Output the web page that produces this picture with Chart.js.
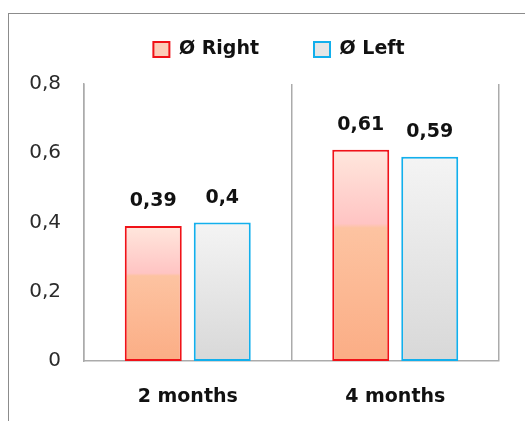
<!DOCTYPE html>
<html>
<head>
<meta charset="utf-8">
<script src="https://cdn.jsdelivr.net/npm/chart.js@4/dist/chart.umd.min.js"></script>
<style>
  html, body { margin: 0; padding: 0; background: #ffffff; overflow: hidden; width: 525px; height: 421px; }
  #frame { position: absolute; left: 8px; top: 13px; border-top: 1px solid #8c8c8c; border-left: 1px solid #8c8c8c; }
  #frame canvas { display: block; }
</style>
</head>
<body>
<div id="frame"><canvas id="chart" width="540" height="420"></canvas></div>
<script>
// Measurement periods and mean values per side
const categories = ['2 months', '4 months'];
const rightValues = [0.39, 0.61];
const leftValues = [0.40, 0.59];
const seriesNames = ['Ø Right', 'Ø Left'];
const yTicks = [0, 0.2, 0.4, 0.6, 0.8];

const FONT = '"DejaVu Sans", sans-serif';
const fmt = v => String(Number(v.toFixed(2))).replace('.', ',');

// Vertical gradient fills for the bars
const rightStops = [[0, '#FFE7DD'], [0.35, '#FFC4C3'], [0.37, '#FDC3A1'], [1, '#FBAD85']];
const leftStops = [[0, '#F4F4F4'], [1, '#D8D8D8']];

function barFill(stops, solid) {
  return (ctx) => {
    if (ctx.type !== 'data') return solid;
    const chart = ctx.chart;
    const y = chart.scales.y;
    if (!chart.chartArea || !y) return solid;
    const top = y.getPixelForValue(ctx.parsed.y);
    const base = y.getPixelForValue(0);
    if (!isFinite(top) || !isFinite(base) || top === base) return solid;
    const g = chart.ctx.createLinearGradient(0, top, 0, base);
    stops.forEach(([o, c]) => g.addColorStop(o, c));
    return g;
  };
}

// Value labels above each bar
const valueLabels = {
  id: 'valueLabels',
  afterDatasetsDraw(chart) {
    const ctx = chart.ctx;
    ctx.save();
    ctx.font = 'bold 19px ' + FONT;
    ctx.fillStyle = '#111111';
    ctx.textAlign = 'center';
    ctx.textBaseline = 'alphabetic';
    chart.data.datasets.forEach((ds, di) => {
      chart.getDatasetMeta(di).data.forEach((bar, i) => {
        ctx.fillText(fmt(ds.data[i]), bar.x, bar.y - 20);
      });
    });
    ctx.restore();
  }
};

// Legend spacing: extra room below the row, and centred across the full canvas width
const legendGap = {
  id: 'legendGap',
  afterInit(chart) {
    const lg = chart.legend;
    if (!lg || lg._gapPatched) return;
    const fit = lg.fit;
    lg.fit = function () { fit.call(this); this.height += 15; };
    lg._gapPatched = true;
  },
  afterLayout(chart) {
    const lg = chart.legend;
    if (!lg) return;
    lg.right = chart.width;
    lg.width = lg.right - lg.left;
  }
};

const gridColor = '#ABABAB';

new Chart(document.getElementById('chart'), {
  type: 'bar',
  data: {
    labels: categories,
    datasets: [
      {
        label: seriesNames[0],
        data: rightValues,
        backgroundColor: barFill(rightStops, '#FCCDB8'),
        borderColor: '#F01218',
        borderWidth: 2,
        borderSkipped: false,
        categoryPercentage: 0.665,
        barPercentage: 0.826
      },
      {
        label: seriesNames[1],
        data: leftValues,
        backgroundColor: barFill(leftStops, '#E6E6E6'),
        borderColor: '#12AFEC',
        borderWidth: 2,
        borderSkipped: false,
        categoryPercentage: 0.665,
        barPercentage: 0.826
      }
    ]
  },
  options: {
    responsive: false,
    animation: false,
    events: [],
    layout: { padding: { top: -29, right: 50, bottom: 0, left: 0 } },
    plugins: {
      tooltip: { enabled: false },
      legend: {
        position: 'top',
        align: 'center',
        labels: {
          boxWidth: 16,
          boxHeight: 15,
          padding: 55,
          color: '#111111',
          font: { family: FONT, size: 19, weight: 'bold' },
          generateLabels(chart) {
            const fills = ['#FCCDB8', '#E6E6E6'];
            const strokes = ['#F01218', '#12AFEC'];
            return chart.data.datasets.map((ds, i) => ({
              text: ds.label,
              fillStyle: fills[i],
              strokeStyle: strokes[i],
              lineWidth: 2,
              hidden: false,
              datasetIndex: i,
              fontColor: '#111111'
            }));
          }
        }
      }
    },
    scales: {
      x: {
        grid: { display: true, offset: true, color: gridColor, lineWidth: 1.5, drawTicks: false },
        border: { display: true, color: gridColor, width: 1.5 },
        ticks: { color: '#111111', padding: 25, font: { family: FONT, size: 19, weight: 'bold' } },
        afterFit(scale) { scale.height = 73; }
      },
      y: {
        min: 0,
        max: 0.8,
        afterBuildTicks(scale) { scale.ticks = yTicks.map(v => ({ value: v })); },
        grid: { display: false, drawTicks: false },
        border: { display: true, color: gridColor, width: 1.5 },
        ticks: {
          color: '#2b2b2b',
          padding: 23,
          font: { family: FONT, size: 20 },
          callback: v => fmt(v)
        },
        afterFit(scale) { scale.width = 75; }
      }
    }
  },
  plugins: [valueLabels, legendGap]
});
</script>
</body>
</html>
